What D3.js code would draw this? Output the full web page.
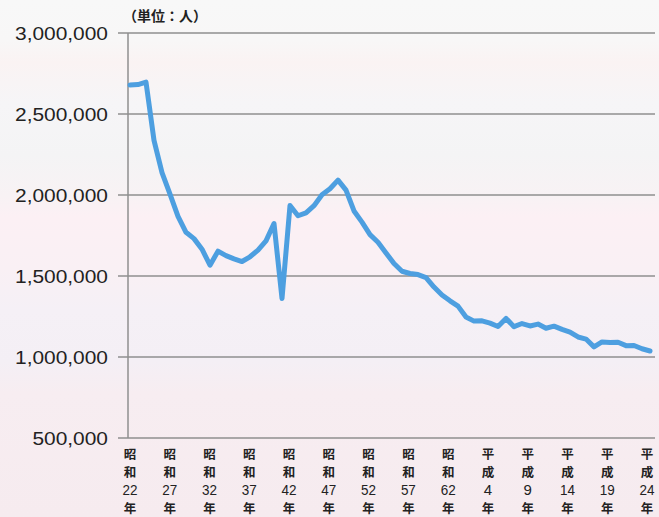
<!DOCTYPE html>
<html><head><meta charset="utf-8">
<script src="https://cdn.jsdelivr.net/npm/d3@7"></script>
<style>html,body{margin:0;padding:0;overflow:hidden;}svg{display:block;}</style>
</head><body>
<svg id="c" width="659" height="517"></svg>
<script>
const years = d3.range(1947, 2013);
const births = [2678792,2681624,2696638,2337507,2137689,2005162,1868040,1769580,1730692,1665278,
1566713,1653469,1626088,1606041,1589372,1618616,1659521,1716761,1823697,1360974,
1935647,1871839,1889815,1934239,2000973,2038682,2091983,2029989,1901440,1832617,
1755100,1708643,1642580,1576889,1529455,1515392,1508687,1489780,1431577,1382946,
1346658,1314006,1246802,1221585,1223245,1208989,1188282,1238328,1187064,1206555,
1191665,1203147,1177669,1190547,1170662,1153855,1123610,1110721,1062530,1092674,
1089818,1091156,1070035,1071304,1050806,1037231];
const yTicks = [500000,1000000,1500000,2000000,2500000,3000000];
const xTickYears = [1947,1952,1957,1962,1967,1972,1977,1982,1987,1992,1997,2002,2007,2012];
const xTickLabels = [["昭","和","22","年"],["昭","和","27","年"],["昭","和","32","年"],["昭","和","37","年"],
["昭","和","42","年"],["昭","和","47","年"],["昭","和","52","年"],["昭","和","57","年"],["昭","和","62","年"],
["平","成","4","年"],["平","成","9","年"],["平","成","14","年"],["平","成","19","年"],["平","成","24","年"]];
const unitLabel = "（単位：人）";

const svg = d3.select("#c");
const defs = svg.append("defs");
const g = defs.append("linearGradient").attr("id","bg").attr("x1",0).attr("y1",0).attr("x2",0).attr("y2",1);
[[0,"#f8f8f8"],[0.08,"#f8f7f7"],[0.12,"#faf3f3"],[0.2,"#f6f5f7"],[0.3,"#f4f4f5"],[0.38,"#f8f2f4"],[0.42,"#fcf0f4"],
 [0.52,"#f9f0f4"],[0.6,"#f5f0f6"],[0.7,"#f4eff5"],[0.76,"#f7edf1"],[1,"#f6ebef"]]
 .forEach(([o,c])=>g.append("stop").attr("offset",o).attr("stop-color",c));
svg.append("rect").attr("width",659).attr("height",517).attr("fill","url(#bg)");

const x = d3.scaleLinear().domain([1947,2012]).range([130,650]);
const xLab = d3.scaleLinear().domain([1947,2012]).range([130,647]);
const y = d3.scaleLinear().domain([500000,3000000]).range([438,33]);
const font = "'Liberation Sans',Arial,sans-serif";
const cjk = "'Noto Sans CJK JP',sans-serif";

// gridlines
svg.append("g").selectAll("line").data(yTicks).join("line")
  .attr("x1",118).attr("x2",655).attr("y1",d=>y(d)).attr("y2",d=>y(d))
  .attr("stroke","#8f8f8f").attr("stroke-width",1.5);
// y axis line
svg.append("line").attr("x1",128).attr("x2",128).attr("y1",y(3000000)).attr("y2",y(500000))
  .attr("stroke","#8f8f8f").attr("stroke-width",1.5);

// y labels (wide digits as in reference)
svg.append("g").selectAll("text").data(yTicks).join("text")
  .attr("x",108).attr("y",d=>y(d)+6.5).attr("text-anchor","end")
  .attr("font-family",font).attr("font-size",17.5).attr("fill","#222")
  .attr("textLength",d=>{const s=d3.format(",")(d);const n=s.replace(/,/g,"").length;const c=s.length-n;return 20.9*(n*0.556+c*0.278);})
  .attr("lengthAdjust","spacingAndGlyphs")
  .text(d=>d3.format(",")(d));

svg.append("text").attr("x",123).attr("y",21).attr("font-family",cjk)
  .attr("font-size",14).attr("font-weight","bold").attr("fill","#222").text(unitLabel);

// x labels: one text per tick with stacked tspans
const xl = svg.append("g").selectAll("text").data(xTickYears).join("text")
  .attr("y",459).attr("text-anchor","middle").attr("fill","#222");
const dys = [0, 18.3, 17.4, 17.9];
xl.each(function(d,i){
  const sel = d3.select(this);
  xTickLabels[i].forEach((t,j)=>{
    const isNum = /\d/.test(t);
    const ts = sel.append("tspan").attr("x",xLab(d)).attr("dy",dys[j])
      .attr("font-family",isNum?font:cjk)
      .attr("font-weight",isNum?"normal":"bold")
      .attr("font-size",isNum?15:12.5)
      .text(t);
    if(isNum && t.length>1){ ts.attr("textLength",15).attr("lengthAdjust","spacingAndGlyphs"); }
  });
});

// line
const line = d3.line().x((d,i)=>x(years[i])).y(d=>y(d));
svg.append("path").datum(births).attr("d",line).attr("fill","none")
  .attr("stroke","#4d9fe0").attr("stroke-width",5).attr("stroke-linejoin","round").attr("stroke-linecap","round");
</script>
</body></html>
